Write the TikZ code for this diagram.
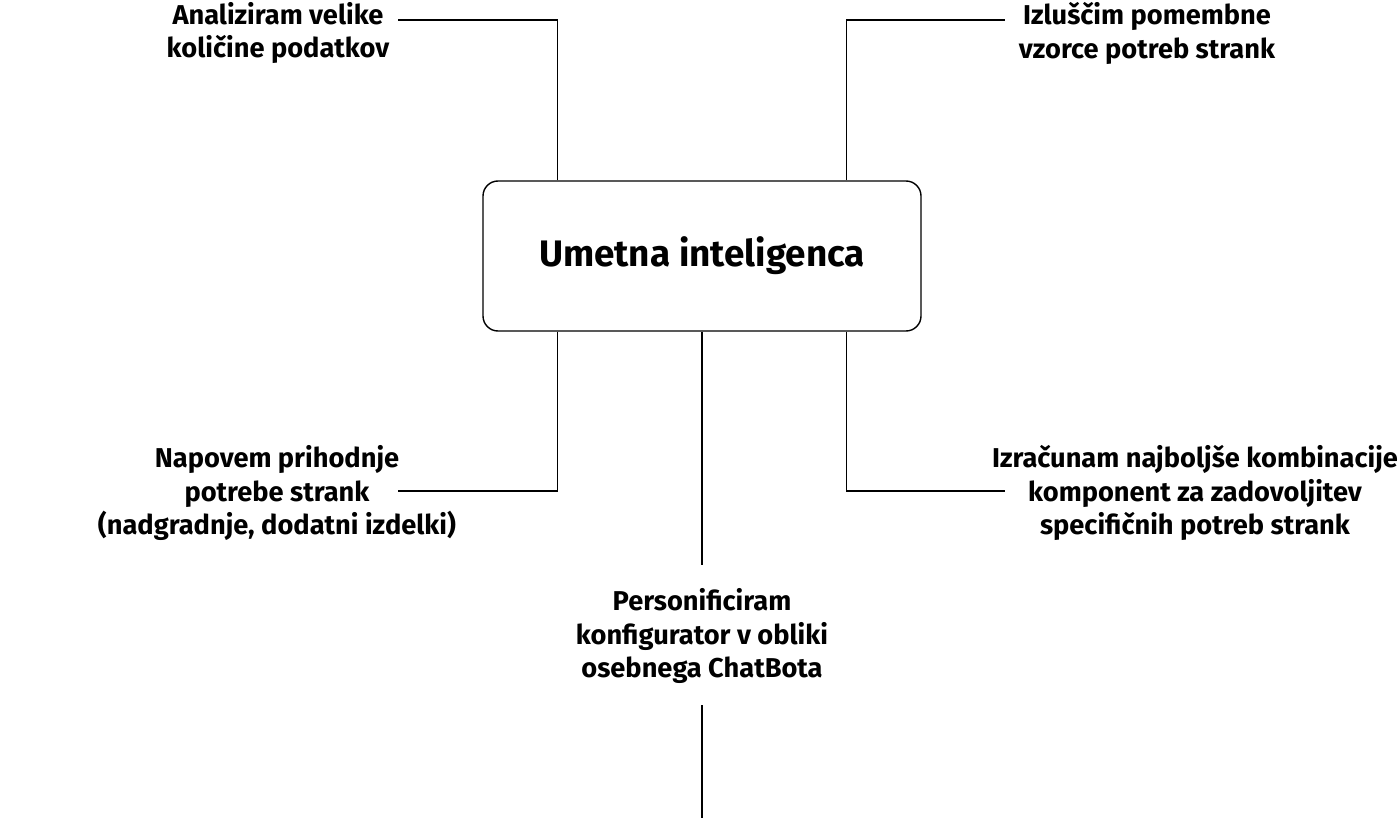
\documentclass[tikz,border=0pt]{standalone}
\usepackage{fontspec}
\setmainfont{Fira Sans}
\usetikzlibrary{positioning}
\tikzset{
  aibox/.style={draw, thick, rounded corners=15*0.02cm, minimum width=438*0.02cm,
    minimum height=150*0.02cm, font=\fontsize{21}{25}\selectfont\bfseries},
  note/.style={align=center, font=\fontsize{15.5}{19.3}\selectfont\bfseries},
  link/.style={thick}
}
\begin{document}
\begin{tikzpicture}[x=0.02cm,y=-0.02cm]
            % frame
            \useasboundingbox (0,0) rectangle (1400,818);
            \node[aibox] (ai) at (702,256) {Umetna inteligenca};
            % notes
            \node[note] (tl) at (278,33) {Analiziram velike\\količine podatkov};
            \node[note] (tr) at (1147,33) {Izluščim pomembne\\vzorce potreb strank};
            \node[note] (bl) at (277,493) {Napovem prihodnje\\potrebe strank\\(nadgradnje, dodatni izdelki)};
            \node[note] (br) at (1195,493) {Izračunam najboljše kombinacije\\komponent za zadovoljitev\\specifičnih potreb strank};
            \node[note] (bc) at (702,636) {Personificiram\\konfigurator v obliki\\osebnega ChatBota};
            % connectors
            \coordinate (tlc) at (398,20);
            \coordinate (trc) at (1005,20);
            \coordinate (blc) at (398,491);
            \coordinate (brc) at (1005,491);
            \coordinate (bct) at (702,565);
            \coordinate (bcb) at (702,705);
            \coordinate (bce) at (702,818);
            \draw[link] (ai.north west) ++(75,0) |- (tlc);
            \draw[link] (ai.north east) ++(-75,0) |- (trc);
            \draw[link] (ai.south west) ++(75,0) |- (blc);
            \draw[link] (ai.south east) ++(-75,0) |- (brc);
            \draw[link] (ai.south) -- (bct);
            \draw[link] (bcb) -- (bce);
           \end{tikzpicture}
\end{document}
